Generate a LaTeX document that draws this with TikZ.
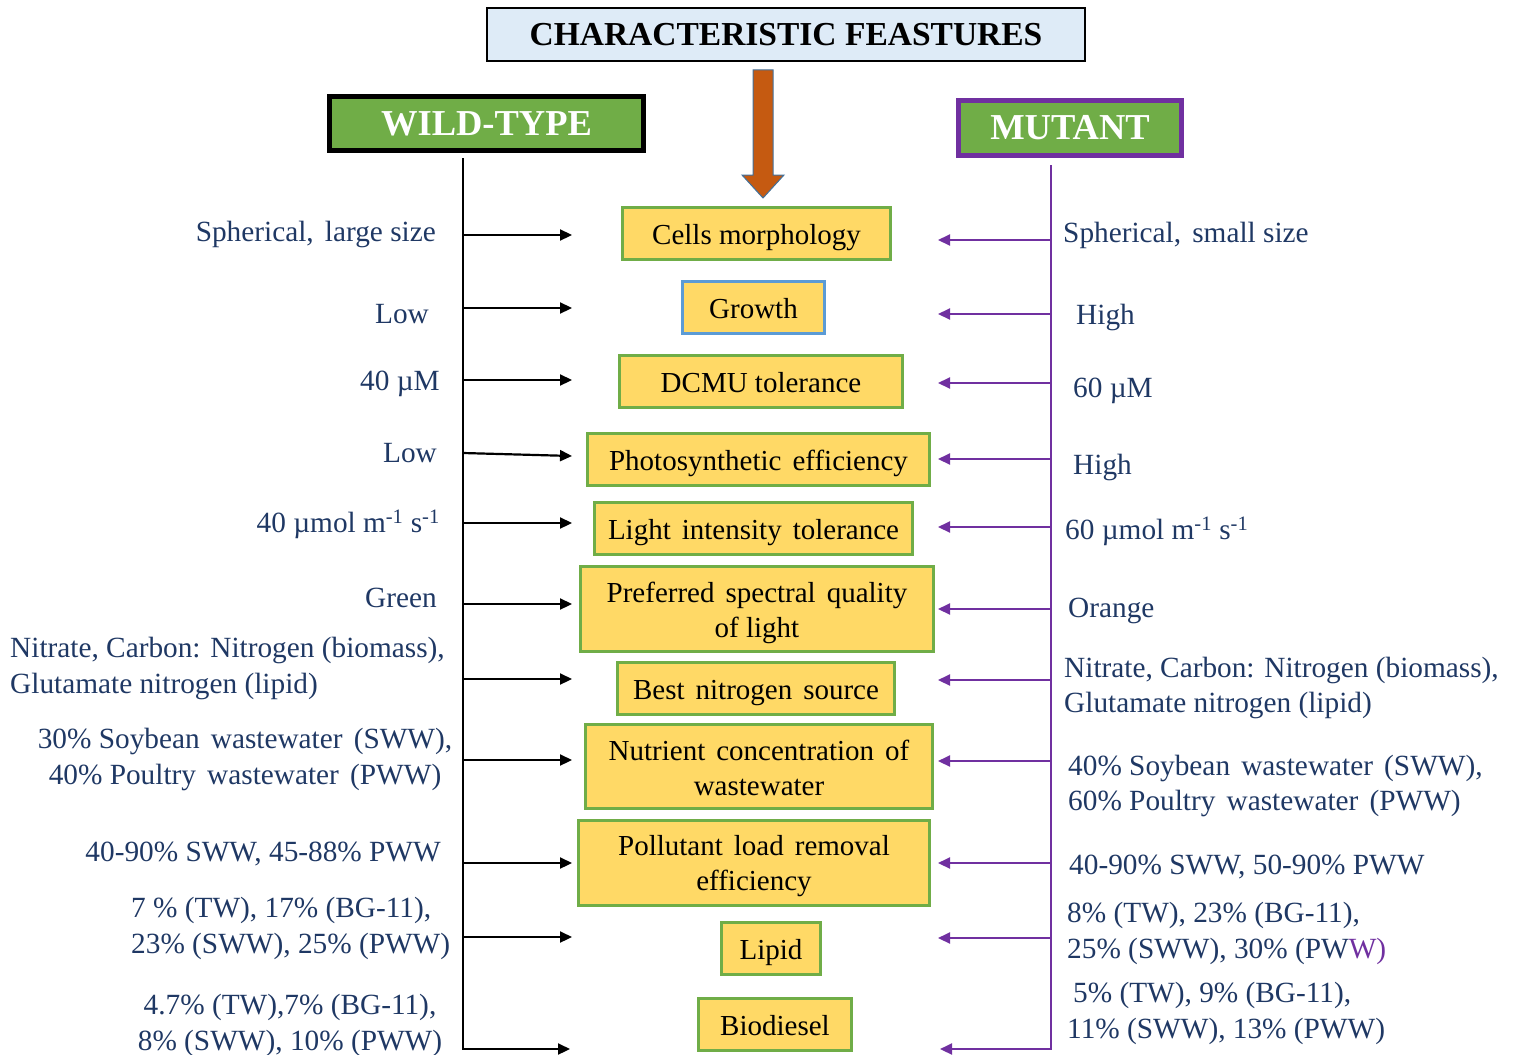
\documentclass[tikz,border=0pt]{standalone}
\usepackage{fontspec}
\setmainfont{Liberation Serif}
\usetikzlibrary{arrows.meta}
\definecolor{navy}{RGB}{31,56,100}
\definecolor{leaf}{RGB}{112,173,71}
\definecolor{gold}{RGB}{255,217,102}
\definecolor{sky}{RGB}{222,235,247}
\definecolor{plum}{RGB}{112,48,160}
\definecolor{rust}{RGB}{197,90,17}
\definecolor{steel}{RGB}{65,113,156}
\definecolor{edgeblue}{RGB}{91,155,213}
% a slightly widened word space
\newcommand\wsp{\hspace{0.38em}}
\tikzset{
  feature/.style={draw=leaf, line width=3pt, fill=gold, align=center,
    font=\fontsize{29}{35}\selectfont, inner sep=0pt, minimum height=52pt},
  oneline/.style={text height=24pt, text depth=2pt},
  groupbox/.style={fill=leaf, line width=5pt, text=white, inner sep=0pt,
    font=\bfseries\fontsize{36.5}{40}\selectfont},
  label/.style={text=navy, inner sep=0pt, font=\fontsize{29.3}{35.5}\selectfont},
  wtarrow/.style={black, line width=2.2pt, -{Triangle[length=12pt,width=11pt]}},
  mtarrow/.style={plum, line width=2.2pt, -{Triangle[length=12pt,width=11pt]}},
}
\begin{document}
\begin{tikzpicture}[x=1pt,y=-1pt]
\useasboundingbox (0,0) rectangle (1514,1054);

% title and downward arrow
\node[draw, line width=2pt, fill=sky, minimum width=598pt, minimum height=53pt,
  inner sep=0pt, font=\bfseries\fontsize{33.5}{40}\selectfont] (head) at (786,34.5)
  {CHARACTERISTIC FEASTURES};
\draw[steel, line width=1pt, fill=rust]
  (753,70) -- (773,70) -- (773,175) -- (784,175) -- (763,198) -- (742,175) -- (753,175) -- cycle;

% group headers
\node[groupbox, draw=black, minimum width=314pt, minimum height=54pt] (wild) at (486.5,123.5) {WILD-TYPE};
\node[groupbox, draw=plum, minimum width=223pt, minimum height=55pt] (mut) at (1070,128) {MUTANT};

% characteristic features
\node[feature, oneline, minimum width=268pt] (f1) at (756.5,233) {Cells morphology};
\node[feature, oneline, draw=edgeblue, minimum width=142pt] (f2) at (753.5,307) {Growth};
\node[feature, oneline, minimum width=283pt] (f3) at (761,381) {DCMU tolerance};
\node[feature, oneline, minimum width=342pt] (f4) at (758.5,459) {Photosynthetic\wsp efficiency};
\node[feature, oneline, minimum width=318pt] (f5) at (753.5,528) {Light\wsp intensity\wsp tolerance};
\node[feature, minimum width=353pt, minimum height=85pt] (f6) at (757,609)
  {\rule{0pt}{28pt}Preferred\wsp spectral\wsp quality\\of light};
\node[feature, oneline, minimum width=277pt] (f7) at (756,688) {Best\wsp nitrogen\wsp source};
\node[feature, minimum width=347pt, minimum height=84pt] (f8) at (759,766.5)
  {\rule{0pt}{23pt}Nutrient\wsp concentration\wsp of\\wastewater};
\node[feature, minimum width=351pt, minimum height=85pt] (f9) at (754,863)
  {\rule{0pt}{26pt}Pollutant\wsp load\wsp removal\\efficiency};
\node[feature, oneline, minimum width=99pt] (f10) at (771,948) {Lipid};
\node[feature, oneline, minimum width=153pt] (f11) at (775,1024) {Biodiesel};

% wild-type values
\node[label, anchor=mid east] (w1) at (436,239) {Spherical,\wsp large size};
\node[label, anchor=mid east] (w2) at (429,321) {Low};
\node[label, anchor=mid east] (w3) at (440,388) {40 µM};
\node[label, anchor=mid east] (w4) at (437,460) {Low};
\node[label, anchor=mid east] (w5) at (440,530) {40 µmol m\textsuperscript{-1} s\textsuperscript{-1}};
\node[label, anchor=mid east] (w6) at (437,605) {Green};
\node[label, anchor=west, align=left] (w7) at (10,668.5) {Nitrate, Carbon: Nitrogen (biomass),\\Glutamate nitrogen (lipid)};
\node[label, align=center] (w8) at (245,759.5) {30\% Soybean\wsp wastewater\wsp (SWW),\\40\% Poultry\wsp wastewater\wsp (PWW)};
\node[label, anchor=mid east] (w9) at (441,859) {40-90\% SWW, 45-88\% PWW};
\node[label, anchor=west, align=left] (w10) at (131,928.5) {7 \% (TW), 17\% (BG-11),\\23\% (SWW), 25\% (PWW)};
\node[label, align=center] (w11) at (290,1025.5) {4.7\% (TW),7\% (BG-11),\\8\% (SWW), 10\% (PWW)};

% mutant values
\node[label, anchor=mid west] (m1) at (1063,240) {Spherical,\wsp small size};
\node[label, anchor=mid west] (m2) at (1076,322) {High};
\node[label, anchor=mid west] (m3) at (1073,395) {60 µM};
\node[label, anchor=mid west] (m4) at (1073,472) {High};
\node[label, anchor=mid west] (m5) at (1065,537) {60 µmol m\textsuperscript{-1} s\textsuperscript{-1}};
\node[label, anchor=mid west] (m6) at (1068,615) {Orange};
\node[label, anchor=west, align=left] (m7) at (1064,688) {Nitrate, Carbon: Nitrogen (biomass),\\Glutamate nitrogen (lipid)};
\node[label, anchor=west, align=left] (m8) at (1068,786) {40\% Soybean\wsp wastewater\wsp (SWW),\\60\% Poultry\wsp wastewater\wsp (PWW)};
\node[label, anchor=mid west] (m9) at (1069,872) {40-90\% SWW, 50-90\% PWW};
\node[label, anchor=west, align=left] (m10) at (1067,933.5) {8\% (TW), 23\% (BG-11),\\25\% (SWW), 30\% (PW{\color{plum}W)}};
\node[label, anchor=west, align=left] (m11) at (1067,1013.5) {\hspace*{6pt}5\% (TW), 9\% (BG-11),\\11\% (SWW), 13\% (PWW)};

% spines
\coordinate (wtop) at (463,158);
\coordinate (wbot) at (463,1049);
\coordinate (mtop) at (1051,165);
\coordinate (mbot) at (1051,1049);
\draw[black, line width=2.2pt] (wtop) -- (wbot);
\draw[plum, line width=2.2pt] (mtop) -- (mbot);

% wild-type arrows
\foreach \k/\ya/\yb in {1/235/235, 2/308/308, 3/380/380, 4/453/456, 5/523/523, 6/604/604,
                        7/679/679, 8/760/760, 9/863/863, 10/937/937} {
  \coordinate (ws\k) at (463,\ya);
  \coordinate (we\k) at (572,\yb);
  \draw[wtarrow] (ws\k) -- (we\k);
}
\coordinate (we11) at (570,1049);
\draw[wtarrow, line cap=rect] (wbot) -- (we11);

% mutant arrows
\foreach \k/\y in {1/240, 2/314, 3/383, 4/459, 5/527, 6/609, 7/680, 8/761, 9/863, 10/938} {
  \coordinate (ms\k) at (1051,\y);
  \coordinate (me\k) at (938,\y);
  \draw[mtarrow] (ms\k) -- (me\k);
}
\coordinate (me11) at (940,1049);
\draw[mtarrow, line cap=rect] (mbot) -- (me11);
\end{tikzpicture}
\end{document}
